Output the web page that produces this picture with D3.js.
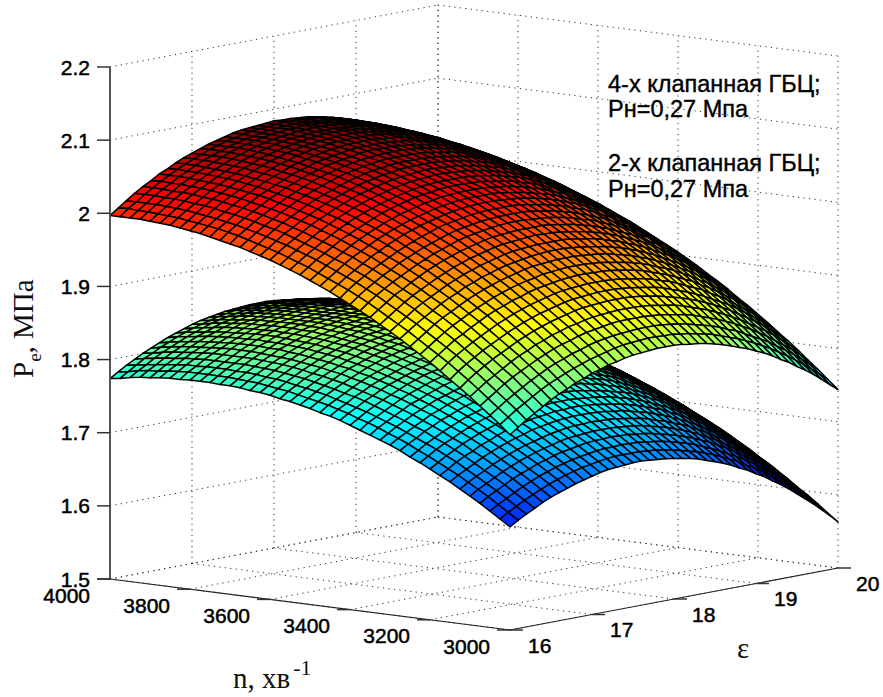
<!DOCTYPE html>
<html>
<head>
<meta charset="utf-8">
<script src="https://cdn.jsdelivr.net/npm/d3@7"></script>
<style>
body { margin: 0; background: #fff; }
svg { display: block; }
.grid { fill: none; stroke: #333; stroke-width: 1; stroke-dasharray: 1.2 4.3; }
.tick-lab { font-family: "Liberation Sans", Arial, sans-serif; font-size: 21px; fill: #000; stroke: #000; stroke-width: .5; }
.note { font-family: "Liberation Sans", Arial, sans-serif; font-size: 23.5px; fill: #000; stroke: #000; stroke-width: .4; }
.ax-title { font-family: "Liberation Serif", serif; font-size: 29px; fill: #111; }
</style>
</head>
<body>
<script>
var speedTicks = [4000, 3800, 3600, 3400, 3200, 3000];
var ratioTicks = [16, 17, 18, 19, 20];
var pressureTicks = [1.5, 1.6, 1.7, 1.8, 1.9, 2, 2.1, 2.2];
var noteLines = ["4-х клапанная ГБЦ;", "Рн=0,27 Мпа", "2-х клапанная ГБЦ;", "Рн=0,27 Мпа"];

// Pe in thousandths of MPa: one row per epsilon (16..20 by 0.1), one column per n (4000..3000 by 25)
// the hidden part of each surface is only a guess
var pe4Valve = [
[1997,1997,1997,1997,1996,1995,1994,1992,1990,1988,1985,1982,1979,1976,1972,1968,1964,1959,1954,1949,1943,1937,1931,1924,1917,1910,1903,1895,1887,1879,1870,1861,1852,1842,1832,1822,1812,1801,1790,1779,1767],
[2005,2006,2005,2005,2004,2003,2002,2000,1998,1996,1994,1991,1988,1984,1980,1976,1972,1967,1962,1957,1951,1945,1939,1933,1926,1919,1911,1903,1895,1887,1878,1869,1860,1851,1841,1831,1820,1809,1798,1787,1775],
[2013,2013,2013,2013,2012,2011,2010,2008,2006,2004,2001,1999,1995,1992,1988,1984,1980,1975,1970,1965,1959,1953,1947,1941,1934,1927,1919,1911,1903,1895,1886,1877,1868,1859,1849,1839,1828,1817,1806,1795,1783],
[2021,2021,2021,2020,2020,2019,2017,2016,2014,2011,2009,2006,2003,1999,1996,1992,1987,1982,1977,1972,1966,1961,1954,1948,1941,1934,1927,1919,1911,1902,1894,1885,1876,1866,1856,1846,1835,1825,1813,1802,1790],
[2028,2028,2028,2027,2027,2026,2024,2023,2021,2018,2016,2013,2010,2006,2003,1998,1994,1989,1984,1979,1973,1968,1961,1955,1948,1941,1933,1926,1918,1909,1901,1892,1882,1873,1863,1853,1842,1832,1820,1809,1797],
[2034,2035,2034,2034,2033,2032,2031,2029,2027,2025,2022,2019,2016,2013,2009,2005,2001,1996,1991,1986,1980,1974,1968,1961,1954,1947,1940,1932,1924,1916,1907,1898,1889,1879,1869,1859,1849,1838,1827,1816,1804],
[2041,2041,2041,2040,2039,2038,2037,2035,2033,2031,2029,2026,2022,2019,2015,2011,2007,2002,1997,1992,1986,1980,1974,1967,1961,1953,1946,1938,1930,1922,1913,1904,1895,1885,1875,1865,1855,1844,1833,1822,1810],
[2046,2047,2046,2046,2045,2044,2043,2041,2039,2037,2034,2031,2028,2025,2021,2017,2012,2008,2003,1997,1992,1986,1980,1973,1966,1959,1952,1944,1936,1927,1919,1910,1901,1891,1881,1871,1860,1850,1839,1827,1815],
[2052,2052,2052,2051,2050,2049,2048,2046,2044,2042,2039,2037,2033,2030,2026,2022,2018,2013,2008,2002,1997,1991,1985,1978,1971,1964,1957,1949,1941,1933,1924,1915,1906,1896,1886,1876,1866,1855,1844,1832,1821],
[2057,2057,2057,2056,2055,2054,2053,2051,2049,2047,2044,2041,2038,2035,2031,2027,2022,2018,2013,2007,2002,1996,1990,1983,1976,1969,1962,1954,1946,1937,1929,1920,1910,1901,1891,1881,1870,1860,1848,1837,1825],
[2061,2061,2061,2061,2060,2059,2057,2056,2054,2051,2049,2046,2043,2039,2035,2031,2027,2022,2017,2012,2006,2000,1994,1987,1980,1973,1966,1958,1950,1942,1933,1924,1915,1905,1895,1885,1875,1864,1853,1841,1830],
[2065,2066,2065,2065,2064,2063,2062,2060,2058,2056,2053,2050,2047,2043,2039,2035,2031,2026,2021,2016,2010,2004,1998,1991,1984,1977,1970,1962,1954,1945,1937,1928,1918,1909,1899,1889,1878,1867,1856,1845,1833],
[2069,2069,2069,2069,2068,2067,2065,2063,2061,2059,2056,2053,2050,2047,2043,2039,2034,2029,2024,2019,2013,2007,2001,1995,1988,1981,1973,1965,1957,1949,1940,1931,1922,1912,1902,1892,1882,1871,1860,1848,1837],
[2072,2073,2072,2072,2071,2070,2068,2067,2065,2062,2060,2057,2053,2050,2046,2042,2037,2032,2027,2022,2016,2010,2004,1998,1991,1984,1976,1968,1960,1952,1943,1934,1925,1915,1905,1895,1884,1874,1863,1851,1839],
[2075,2075,2075,2075,2074,2073,2071,2069,2067,2065,2062,2059,2056,2052,2049,2044,2040,2035,2030,2025,2019,2013,2007,2000,1993,1986,1979,1971,1963,1954,1946,1936,1927,1918,1908,1898,1887,1876,1865,1854,1842],
[2078,2078,2077,2077,2076,2075,2073,2072,2070,2067,2064,2061,2058,2055,2051,2047,2042,2037,2032,2027,2021,2015,2009,2002,1995,1988,1981,1973,1965,1956,1948,1939,1929,1920,1910,1900,1889,1878,1867,1856,1844],
[2080,2080,2079,2079,2078,2077,2075,2073,2071,2069,2066,2063,2060,2056,2052,2048,2044,2039,2034,2028,2023,2017,2011,2004,1997,1990,1982,1974,1966,1958,1949,1940,1931,1921,1911,1901,1890,1880,1868,1857,1845],
[2081,2081,2081,2080,2079,2078,2077,2075,2073,2070,2068,2065,2061,2058,2054,2050,2045,2040,2035,2030,2024,2018,2012,2005,1998,1991,1983,1975,1967,1959,1950,1941,1932,1922,1912,1902,1891,1881,1869,1858,1846],
[2082,2082,2082,2082,2081,2079,2078,2076,2074,2072,2069,2066,2062,2059,2055,2051,2046,2041,2036,2031,2025,2019,2013,2006,1999,1992,1984,1976,1968,1960,1951,1942,1933,1923,1913,1903,1892,1881,1870,1859,1847],
[2083,2083,2083,2082,2081,2080,2079,2077,2074,2072,2069,2066,2063,2059,2055,2051,2047,2042,2036,2031,2025,2019,2013,2006,1999,1992,1984,1977,1968,1960,1951,1942,1933,1923,1913,1903,1892,1881,1870,1859,1847],
[2084,2084,2083,2083,2082,2080,2079,2077,2075,2072,2069,2066,2063,2059,2055,2051,2047,2042,2036,2031,2025,2019,2013,2006,1999,1992,1984,1976,1968,1960,1951,1942,1932,1923,1913,1903,1892,1881,1870,1858,1847],
[2083,2083,2083,2082,2081,2080,2079,2077,2074,2072,2069,2066,2063,2059,2055,2051,2046,2041,2036,2030,2025,2019,2012,2006,1999,1991,1984,1976,1968,1959,1950,1941,1932,1922,1912,1902,1891,1880,1869,1858,1846],
[2083,2083,2082,2082,2081,2079,2078,2076,2074,2071,2068,2065,2062,2058,2054,2050,2045,2040,2035,2030,2024,2018,2011,2005,1998,1990,1983,1975,1967,1958,1949,1940,1931,1921,1911,1901,1890,1879,1868,1856,1844],
[2082,2082,2081,2081,2080,2078,2077,2075,2073,2070,2067,2064,2061,2057,2053,2049,2044,2039,2034,2028,2022,2016,2010,2003,1996,1989,1981,1973,1965,1956,1948,1938,1929,1919,1909,1899,1888,1877,1866,1855,1843],
[2081,2081,2080,2079,2078,2077,2075,2073,2071,2069,2066,2062,2059,2055,2051,2047,2042,2037,2032,2026,2021,2014,2008,2001,1994,1987,1979,1971,1963,1954,1946,1936,1927,1917,1907,1897,1886,1875,1864,1852,1841],
[2079,2079,2078,2077,2076,2075,2073,2071,2069,2067,2064,2060,2057,2053,2049,2045,2040,2035,2030,2024,2018,2012,2006,1999,1992,1985,1977,1969,1961,1952,1943,1934,1925,1915,1905,1894,1884,1873,1861,1850,1838],
[2077,2076,2076,2075,2074,2073,2071,2069,2067,2064,2061,2058,2054,2051,2047,2042,2037,2032,2027,2022,2016,2009,2003,1996,1989,1982,1974,1966,1958,1949,1940,1931,1922,1912,1902,1891,1881,1870,1858,1847,1835],
[2074,2074,2073,2073,2071,2070,2068,2066,2064,2061,2058,2055,2052,2048,2044,2039,2034,2029,2024,2018,2012,2006,2000,1993,1986,1978,1971,1963,1954,1946,1937,1928,1918,1908,1898,1888,1877,1866,1855,1843,1831],
[2071,2071,2070,2069,2068,2067,2065,2063,2061,2058,2055,2052,2048,2044,2040,2036,2031,2026,2021,2015,2009,2003,1996,1989,1982,1975,1967,1959,1951,1942,1933,1924,1914,1905,1894,1884,1873,1862,1851,1839,1827],
[2067,2067,2067,2066,2065,2063,2061,2059,2057,2054,2051,2048,2044,2040,2036,2032,2027,2022,2017,2011,2005,1999,1992,1985,1978,1971,1963,1955,1946,1938,1929,1919,1910,1900,1890,1880,1869,1858,1846,1835,1823],
[2064,2063,2063,2062,2061,2059,2057,2055,2053,2050,2047,2044,2040,2036,2032,2028,2023,2018,2012,2006,2000,1994,1988,1981,1973,1966,1958,1950,1942,1933,1924,1915,1905,1895,1885,1875,1864,1853,1842,1830,1818],
[2059,2059,2058,2057,2056,2055,2053,2051,2048,2045,2042,2039,2035,2031,2027,2023,2018,2013,2007,2002,1996,1989,1983,1976,1969,1961,1953,1945,1937,1928,1919,1910,1900,1890,1880,1870,1859,1848,1836,1825,1813],
[2055,2054,2054,2053,2051,2050,2048,2046,2043,2040,2037,2034,2030,2026,2022,2018,2013,2008,2002,1996,1990,1984,1977,1970,1963,1956,1948,1940,1931,1922,1913,1904,1895,1885,1874,1864,1853,1842,1830,1819,1807],
[2049,2049,2048,2047,2046,2044,2043,2040,2038,2035,2032,2028,2025,2021,2017,2012,2007,2002,1996,1991,1984,1978,1972,1965,1957,1950,1942,1934,1925,1916,1907,1898,1888,1878,1868,1858,1847,1836,1824,1813,1800],
[2044,2043,2043,2042,2040,2039,2037,2034,2032,2029,2026,2022,2019,2015,2010,2006,2001,1996,1990,1984,1978,1972,1965,1958,1951,1943,1935,1927,1919,1910,1901,1891,1882,1872,1862,1851,1840,1829,1818,1806,1794],
[2038,2037,2037,2036,2034,2033,2031,2028,2026,2023,2020,2016,2012,2008,2004,1999,1995,1989,1984,1978,1972,1965,1959,1952,1944,1937,1929,1920,1912,1903,1894,1885,1875,1865,1855,1844,1833,1822,1810,1799,1786],
[2031,2031,2030,2029,2028,2026,2024,2022,2019,2016,2013,2009,2006,2002,1997,1993,1988,1982,1977,1971,1965,1958,1951,1944,1937,1929,1921,1913,1905,1896,1887,1877,1867,1857,1847,1837,1826,1814,1803,1791,1779],
[2025,2024,2023,2022,2021,2019,2017,2014,2012,2009,2006,2002,1998,1994,1990,1985,1980,1975,1969,1963,1957,1951,1944,1937,1929,1922,1914,1905,1897,1888,1879,1869,1860,1849,1839,1829,1818,1806,1795,1783,1771],
[2017,2017,2016,2015,2013,2011,2009,2007,2004,2001,1998,1994,1991,1986,1982,1977,1972,1967,1961,1955,1949,1942,1936,1929,1921,1913,1905,1897,1888,1880,1870,1861,1851,1841,1831,1820,1809,1798,1786,1774,1762],
[2010,2009,2008,2007,2005,2004,2002,1999,1996,1993,1990,1986,1983,1978,1974,1969,1964,1959,1953,1947,1941,1934,1927,1920,1913,1905,1897,1889,1880,1871,1862,1852,1842,1832,1822,1811,1800,1789,1777,1765,1753],
[2002,2001,2000,1999,1997,1995,1993,1991,1988,1985,1981,1978,1974,1970,1965,1960,1955,1950,1944,1938,1932,1925,1918,1911,1904,1896,1888,1879,1871,1862,1852,1843,1833,1823,1812,1802,1791,1779,1768,1756,1744]
];
var pe2Valve = [
[1774,1776,1779,1781,1782,1784,1785,1785,1786,1786,1786,1785,1785,1784,1782,1781,1779,1776,1774,1771,1768,1764,1761,1757,1752,1747,1742,1737,1732,1726,1719,1713,1706,1699,1692,1684,1676,1668,1659,1650,1641],
[1781,1783,1786,1788,1789,1791,1792,1793,1793,1793,1793,1793,1792,1791,1790,1788,1786,1784,1781,1778,1775,1772,1768,1764,1759,1755,1750,1744,1739,1733,1726,1720,1713,1706,1699,1691,1683,1675,1666,1657,1648],
[1788,1790,1792,1794,1796,1797,1799,1799,1800,1800,1800,1799,1799,1798,1796,1795,1793,1790,1788,1785,1782,1778,1774,1770,1766,1761,1756,1751,1745,1739,1733,1727,1720,1713,1705,1697,1689,1681,1672,1663,1654],
[1794,1797,1799,1801,1802,1804,1805,1806,1806,1806,1806,1806,1805,1804,1803,1801,1799,1797,1794,1791,1788,1784,1781,1777,1772,1767,1762,1757,1751,1746,1739,1733,1726,1719,1711,1703,1695,1687,1678,1669,1660],
[1800,1802,1805,1807,1808,1810,1811,1812,1812,1812,1812,1812,1811,1810,1809,1807,1805,1802,1800,1797,1794,1790,1786,1782,1778,1773,1768,1763,1757,1751,1745,1738,1732,1724,1717,1709,1701,1693,1684,1675,1666],
[1805,1808,1810,1812,1814,1815,1816,1817,1818,1818,1818,1817,1816,1815,1814,1812,1810,1808,1805,1803,1799,1796,1792,1788,1783,1779,1774,1768,1763,1757,1750,1744,1737,1730,1722,1714,1706,1698,1689,1680,1671],
[1810,1813,1815,1817,1819,1820,1821,1822,1823,1823,1823,1822,1822,1820,1819,1817,1815,1813,1810,1808,1804,1801,1797,1793,1788,1784,1778,1773,1767,1761,1755,1749,1742,1734,1727,1719,1711,1702,1694,1685,1675],
[1815,1818,1820,1822,1824,1825,1826,1827,1827,1828,1827,1827,1826,1825,1824,1822,1820,1818,1815,1812,1809,1805,1801,1797,1793,1788,1783,1778,1772,1766,1760,1753,1746,1739,1731,1723,1715,1707,1698,1689,1679],
[1819,1822,1824,1826,1828,1829,1830,1831,1832,1832,1832,1831,1830,1829,1828,1826,1824,1822,1819,1816,1813,1809,1805,1801,1797,1792,1787,1781,1776,1770,1763,1757,1750,1743,1735,1727,1719,1710,1702,1693,1683],
[1823,1826,1828,1830,1832,1833,1834,1835,1835,1836,1835,1835,1834,1833,1832,1830,1828,1826,1823,1820,1817,1813,1809,1805,1801,1796,1791,1785,1780,1773,1767,1760,1753,1746,1738,1730,1722,1714,1705,1696,1686],
[1827,1829,1832,1834,1835,1837,1838,1838,1839,1839,1839,1838,1838,1836,1835,1833,1831,1829,1826,1823,1820,1816,1812,1808,1804,1799,1794,1788,1783,1777,1770,1763,1756,1749,1742,1733,1725,1717,1708,1699,1689],
[1830,1832,1835,1836,1838,1839,1841,1841,1842,1842,1842,1841,1841,1839,1838,1836,1834,1832,1829,1826,1823,1819,1815,1811,1806,1802,1796,1791,1785,1779,1773,1766,1759,1752,1744,1736,1728,1719,1710,1701,1692],
[1832,1835,1837,1839,1841,1842,1843,1844,1844,1844,1844,1844,1843,1842,1840,1839,1837,1834,1831,1829,1825,1822,1818,1813,1809,1804,1799,1793,1787,1781,1775,1768,1761,1754,1746,1738,1730,1721,1712,1703,1694],
[1834,1837,1839,1841,1843,1844,1845,1846,1846,1846,1846,1846,1845,1844,1842,1841,1838,1836,1833,1830,1827,1823,1819,1815,1811,1806,1801,1795,1789,1783,1777,1770,1763,1755,1748,1740,1731,1723,1714,1705,1695],
[1836,1839,1841,1843,1844,1846,1847,1848,1848,1848,1848,1847,1847,1845,1844,1842,1840,1838,1835,1832,1829,1825,1821,1817,1812,1807,1802,1796,1791,1784,1778,1771,1764,1757,1749,1741,1732,1724,1715,1706,1696],
[1837,1840,1842,1844,1846,1847,1848,1849,1849,1849,1849,1849,1848,1847,1845,1843,1841,1839,1836,1833,1830,1826,1822,1818,1813,1808,1803,1797,1791,1785,1779,1772,1765,1757,1750,1741,1733,1724,1715,1706,1697],
[1838,1841,1843,1845,1847,1848,1849,1850,1850,1850,1850,1849,1849,1847,1846,1844,1842,1839,1837,1834,1830,1827,1823,1818,1814,1809,1803,1798,1792,1786,1779,1772,1765,1758,1750,1742,1733,1725,1716,1706,1697],
[1839,1841,1844,1846,1847,1848,1850,1850,1851,1851,1851,1850,1849,1848,1846,1844,1842,1840,1837,1834,1831,1827,1823,1818,1814,1809,1803,1798,1792,1786,1779,1772,1765,1758,1750,1741,1733,1724,1715,1706,1696],
[1839,1842,1844,1846,1847,1848,1850,1850,1851,1851,1850,1850,1849,1848,1846,1844,1842,1840,1837,1834,1830,1827,1822,1818,1813,1808,1803,1797,1791,1785,1779,1772,1764,1757,1749,1741,1732,1724,1715,1705,1695],
[1839,1841,1843,1845,1847,1848,1849,1850,1850,1850,1850,1849,1848,1847,1846,1844,1841,1839,1836,1833,1830,1826,1822,1817,1813,1808,1802,1797,1791,1784,1778,1771,1763,1756,1748,1740,1731,1722,1713,1704,1694],
[1838,1840,1843,1844,1846,1847,1848,1849,1849,1849,1849,1848,1847,1846,1844,1843,1840,1838,1835,1832,1829,1825,1821,1816,1811,1806,1801,1795,1789,1783,1776,1769,1762,1754,1746,1738,1730,1721,1712,1702,1692],
[1837,1839,1841,1843,1845,1846,1847,1848,1848,1848,1848,1847,1846,1845,1843,1841,1839,1836,1834,1831,1827,1823,1819,1815,1810,1805,1799,1793,1787,1781,1775,1767,1760,1752,1745,1736,1728,1719,1710,1700,1690],
[1835,1838,1840,1842,1843,1844,1845,1846,1846,1846,1846,1845,1844,1843,1841,1839,1837,1835,1832,1829,1825,1821,1817,1812,1808,1802,1797,1791,1785,1779,1772,1765,1758,1750,1742,1734,1725,1716,1707,1697,1688],
[1833,1835,1838,1840,1841,1842,1843,1844,1844,1844,1844,1843,1842,1841,1839,1837,1835,1832,1829,1826,1823,1819,1814,1810,1805,1800,1794,1789,1783,1776,1770,1762,1755,1747,1739,1731,1722,1713,1704,1694,1685],
[1831,1833,1835,1837,1839,1840,1841,1841,1842,1842,1841,1840,1839,1838,1836,1834,1832,1829,1826,1823,1820,1816,1811,1807,1802,1797,1791,1786,1780,1773,1766,1759,1752,1744,1736,1727,1719,1710,1701,1691,1681],
[1828,1830,1832,1834,1836,1837,1838,1838,1839,1839,1838,1837,1836,1835,1833,1831,1829,1826,1823,1820,1817,1812,1808,1804,1799,1793,1788,1782,1776,1770,1763,1756,1748,1740,1732,1724,1715,1706,1697,1687,1677],
[1825,1827,1829,1831,1832,1833,1834,1835,1835,1835,1835,1834,1833,1831,1830,1828,1825,1823,1820,1816,1813,1809,1804,1800,1795,1790,1784,1778,1772,1766,1759,1752,1744,1736,1728,1719,1711,1702,1692,1683,1673],
[1821,1823,1825,1827,1828,1830,1831,1831,1831,1831,1831,1830,1829,1827,1826,1824,1821,1819,1816,1812,1809,1805,1800,1796,1791,1785,1780,1774,1768,1761,1754,1747,1739,1732,1723,1715,1706,1697,1687,1678,1668],
[1817,1819,1821,1823,1824,1825,1826,1827,1827,1827,1827,1826,1825,1823,1821,1819,1817,1814,1811,1808,1804,1800,1796,1791,1786,1781,1775,1769,1763,1756,1749,1742,1734,1726,1718,1710,1701,1692,1682,1672,1662],
[1812,1815,1817,1818,1820,1821,1822,1822,1822,1822,1822,1821,1820,1818,1816,1814,1812,1809,1806,1803,1799,1795,1790,1786,1781,1775,1770,1764,1757,1751,1744,1737,1729,1721,1713,1704,1695,1686,1676,1667,1657],
[1807,1810,1812,1813,1815,1816,1817,1817,1817,1817,1817,1816,1815,1813,1811,1809,1807,1804,1801,1797,1794,1789,1785,1780,1775,1770,1764,1758,1752,1745,1738,1731,1723,1715,1707,1698,1689,1680,1670,1660,1650],
[1802,1804,1806,1808,1809,1810,1811,1812,1812,1812,1811,1810,1809,1807,1805,1803,1801,1798,1795,1791,1788,1783,1779,1774,1769,1764,1758,1752,1745,1739,1732,1724,1717,1709,1700,1691,1682,1673,1664,1654,1644],
[1796,1798,1800,1802,1803,1804,1805,1806,1806,1806,1805,1804,1803,1801,1799,1797,1795,1792,1789,1785,1781,1777,1772,1768,1763,1757,1751,1745,1739,1732,1725,1718,1710,1702,1693,1685,1675,1666,1657,1647,1636],
[1790,1792,1794,1796,1797,1798,1799,1799,1799,1799,1799,1798,1796,1795,1793,1790,1788,1785,1782,1778,1775,1770,1766,1761,1756,1750,1744,1738,1732,1725,1718,1710,1703,1694,1686,1677,1668,1659,1649,1639,1629],
[1783,1786,1788,1789,1790,1791,1792,1793,1793,1792,1792,1791,1789,1788,1786,1783,1781,1778,1775,1771,1767,1763,1758,1754,1748,1743,1737,1731,1724,1717,1710,1703,1695,1687,1678,1669,1660,1651,1641,1631,1621],
[1776,1779,1781,1782,1783,1784,1785,1785,1785,1785,1785,1783,1782,1780,1778,1776,1773,1770,1767,1764,1760,1755,1751,1746,1740,1735,1729,1723,1716,1709,1702,1695,1687,1679,1670,1661,1652,1642,1633,1623,1612],
[1769,1771,1773,1775,1776,1777,1777,1778,1778,1777,1777,1776,1774,1772,1770,1768,1765,1762,1759,1756,1752,1747,1743,1738,1732,1727,1721,1714,1708,1701,1694,1686,1678,1670,1661,1652,1643,1634,1624,1614,1603],
[1761,1763,1765,1767,1768,1769,1769,1770,1770,1769,1769,1767,1766,1764,1762,1760,1757,1754,1751,1747,1743,1739,1734,1729,1724,1718,1712,1706,1699,1692,1685,1677,1669,1661,1652,1643,1634,1624,1614,1604,1594],
[1753,1755,1757,1758,1759,1760,1761,1761,1761,1761,1760,1759,1757,1755,1753,1751,1748,1745,1742,1738,1734,1730,1725,1720,1714,1709,1703,1696,1690,1683,1676,1668,1660,1651,1643,1633,1624,1615,1605,1594,1584],
[1744,1746,1748,1749,1751,1751,1752,1752,1752,1752,1751,1750,1748,1746,1744,1742,1739,1736,1733,1729,1725,1720,1715,1710,1705,1699,1693,1687,1680,1673,1666,1658,1650,1641,1633,1623,1614,1604,1594,1584,1574],
[1735,1737,1739,1740,1741,1742,1743,1743,1743,1742,1742,1740,1739,1737,1735,1732,1729,1726,1723,1719,1715,1710,1706,1700,1695,1689,1683,1677,1670,1663,1655,1648,1639,1631,1622,1613,1603,1594,1584,1573,1563]
];

var width = 883, height = 697;
var origin = { x: 110, y: 579 };

var svg = d3.select("body").append("svg")
    .attr("width", width)
    .attr("height", height);

// oblique axes of the box, each one a pair of linear scales
var nX = d3.scaleLinear().domain([4000, 3000]).range([0, 400]);
var nY = d3.scaleLinear().domain([4000, 3000]).range([0, 51]);
var eX = d3.scaleLinear().domain([16, 20]).range([0, 328]);
var eY = d3.scaleLinear().domain([16, 20]).range([0, -62]);
var zY = d3.scaleLinear().domain([1.5, 2.2]).range([0, -512]);

function project(n, e, z) {
    return [origin.x + nX(n) + eX(e), origin.y + nY(n) + eY(e) + zY(z)];
}

var line = d3.line();
var grid = svg.append("g").attr("class", "grid");

function gridLine(a, b) {
    grid.append("path").attr("d", line([project(a[0], a[1], a[2]), project(b[0], b[1], b[2])]));
}

pressureTicks.forEach(function (z) {
    gridLine([4000, 16, z], [4000, 20, z]);
    gridLine([4000, 20, z], [3000, 20, z]);
});
ratioTicks.forEach(function (e) {
    gridLine([4000, e, 1.5], [3000, e, 1.5]);
    if (e > 16) gridLine([4000, e, 1.5], [4000, e, 2.2]);
});
speedTicks.forEach(function (n) {
    gridLine([n, 16, 1.5], [n, 20, 1.5]);
    gridLine([n, 20, 1.5], [n, 20, 2.2]);
});

// jet colormap over the range of both surfaces
var colour = d3.scaleLinear()
    .domain([0, 0.125, 0.375, 0.625, 0.875, 1].map(function (v) { return 1563 + v * (2084 - 1563); }))
    .range(["#00007f", "#0000ff", "#00ffff", "#ffff00", "#ff0000", "#7f0000"]);

function drawSurface(table) {
    var rows = table.length, cols = table[0].length;
    var eAt = d3.scaleLinear().domain([0, rows - 1]).range([16, 20]);
    var nAt = d3.scaleLinear().domain([0, cols - 1]).range([4000, 3000]);
    var g = svg.append("g").attr("stroke", "#000").attr("stroke-width", 1.5).attr("stroke-linejoin", "round");
    // back corner first, so nearer cells paint over farther ones
    for (var j = rows - 2; j >= 0; j--) {
        for (var i = 0; i < cols - 1; i++) {
            var corners = [[j, i], [j, i + 1], [j + 1, i + 1], [j + 1, i]];
            var pts = corners.map(function (c) {
                return project(nAt(c[1]), eAt(c[0]), table[c[0]][c[1]] / 1000);
            });
            var mean = d3.mean(corners, function (c) { return table[c[0]][c[1]]; });
            g.append("path")
                .attr("d", line(pts) + "Z")
                .attr("fill", colour(mean));
        }
    }
}

drawSurface(pe2Valve);
drawSurface(pe4Valve);

// solid axes and ticks
var axes = svg.append("g").attr("fill", "none");
axes.append("path")
    .attr("d", line([project(4000, 16, 2.2), project(4000, 16, 1.5)]))
    .attr("stroke", "#555").attr("stroke-width", 2);
axes.append("path")
    .attr("d", line([project(4000, 16, 1.5), project(3000, 16, 1.5), project(3000, 20, 1.5)]))
    .attr("stroke", "#222").attr("stroke-width", 1.2);

pressureTicks.forEach(function (z) {
    var p = project(4000, 16, z);
    axes.append("path").attr("d", line([[p[0] - 13, p[1]], p])).attr("stroke", "#333").attr("stroke-width", 1.5);
    svg.append("text").attr("class", "tick-lab")
        .attr("x", p[0] - 20).attr("y", p[1]).attr("dy", ".36em")
        .attr("text-anchor", "end").text(z);
});
speedTicks.forEach(function (n) {
    var p = project(n, 16, 1.5);
    axes.append("path").attr("d", line([[p[0] - 13, p[1]], p])).attr("stroke", "#333").attr("stroke-width", 1.5);
    svg.append("text").attr("class", "tick-lab")
        .attr("x", p[0] - 20).attr("y", p[1] + 16).attr("dy", ".36em")
        .attr("text-anchor", "end").text(n);
});
ratioTicks.forEach(function (e) {
    var p = project(3000, e, 1.5);
    axes.append("path").attr("d", line([p, [p[0] + 13, p[1]]])).attr("stroke", "#333").attr("stroke-width", 1.5);
    svg.append("text").attr("class", "tick-lab")
        .attr("x", p[0] + 18).attr("y", p[1] + 15).attr("dy", ".36em")
        .text(e);
});

// axis titles
var nTitle = svg.append("text").attr("class", "ax-title").attr("x", 233).attr("y", 688);
nTitle.append("tspan").text("n, хв");
nTitle.append("tspan").attr("dx", 3).attr("dy", -13).style("font-size", "22px").text("-1");

svg.append("text").attr("class", "ax-title").attr("x", 737).attr("y", 658).text("ε");

var pTitle = svg.append("text").attr("class", "ax-title")
    .attr("transform", "translate(33,378) rotate(-90)");
pTitle.append("tspan").text("P");
pTitle.append("tspan").attr("dy", 8).style("font-size", "19px").text("e");
pTitle.append("tspan").attr("dy", -8).text(", МПа");

// annotation next to the surfaces
var noteBase = [92, 117, 171, 197];
noteLines.forEach(function (t, k) {
    svg.append("text").attr("class", "note").attr("x", 608).attr("y", noteBase[k]).text(t);
});
</script>
</body>
</html>
